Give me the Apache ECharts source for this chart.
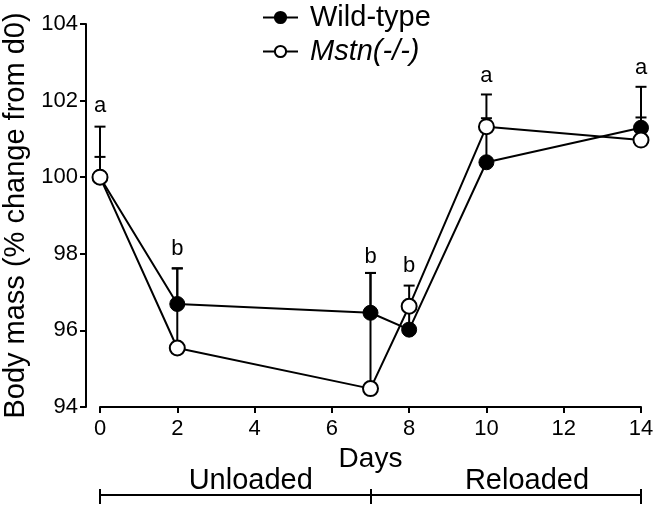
<!DOCTYPE html>
<html><head><meta charset="utf-8">
<script src="https://cdn.jsdelivr.net/npm/echarts@6/dist/echarts.min.js"></script>
<style>html,body{margin:0;padding:0;background:#fff}#c{width:662px;height:512px}</style>
</head><body><div id="c"></div>
<script>
const days = [0, 2, 7, 8, 10, 14];
const wtMean = [100, 96.69, 96.46, 96.02, 100.39, 101.29];
const wtUpper = [100.53, 97.62, 97.5, 96.6, 101.54, 102.36];
const koMean = [100, 95.54, 94.48, 96.63, 101.32, 100.97];
const koUpper = [101.32, 97.62, 97.5, 97.17, 102.16, 101.56];
const letters = ['a', 'b', 'b', 'b', 'a', 'a'];
const letterY = [101.86, 98.14, 97.93, 97.69, 102.65, 102.86];
const phaseBounds = [0, 7, 14];
const phaseNames = ['Unloaded', 'Reloaded'];
const phaseLabelX = [3.9, 11.05];

const FONT = 'Liberation Sans, Arial, Helvetica, sans-serif';
const BLACK = '#000';

function errData(mean, upper) { return days.map((d, i) => [d, mean[i], upper[i]]); }
function errRender(params, api) {
  const x = api.value(0);
  const lo = api.coord([x, api.value(1)]);
  const hi = api.coord([x, api.value(2)]);
  const w = 5.5;
  return { type: 'group', children: [
    { type: 'line', shape: { x1: lo[0], y1: lo[1], x2: hi[0], y2: hi[1] }, style: { stroke: BLACK, lineWidth: 2 } },
    { type: 'line', shape: { x1: hi[0] - w, y1: hi[1], x2: hi[0] + w, y2: hi[1] }, style: { stroke: BLACK, lineWidth: 2 } }
  ]};
}
function letterRender(params, api) {
  const p = api.coord([api.value(0), api.value(1)]);
  return { type: 'text', x: p[0], y: p[1], style: {
    text: letters[params.dataIndex], fill: BLACK, fontSize: 22, fontFamily: FONT,
    align: 'center', verticalAlign: 'middle'
  }};
}
function phaseName(v) {
  let best = 0;
  phaseLabelX.forEach((p, i) => { if (Math.abs(p - v) < Math.abs(phaseLabelX[best] - v)) best = i; });
  return Math.abs(phaseLabelX[best] - v) < 0.01 ? phaseNames[best] : '';
}

const chart = echarts.init(document.getElementById('c'), null, { renderer: 'canvas' });
chart.setOption({
  animation: false,
  backgroundColor: '#fff',
  textStyle: { fontFamily: FONT, color: BLACK },
  grid: { left: 100, right: 21, top: 24, bottom: 105, containLabel: false, outerBoundsMode: 'none' },
  legend: {
    orient: 'vertical', left: 257, top: -2,
    itemWidth: 35, itemHeight: 14, itemGap: 5,
    textStyle: { fontSize: 29, color: BLACK, fontFamily: FONT, padding: [0, 0, 0, 7] },
    data: [{ name: 'Wild-type' }, { name: 'Mstn(-/-)', textStyle: { fontStyle: 'italic' } }]
  },
  xAxis: [
    {
      type: 'value', min: 0, max: 14, interval: 2,
      axisLine: { show: true, onZero: false, lineStyle: { color: BLACK, width: 2 } },
      axisTick: { show: true, length: 6, lineStyle: { color: BLACK, width: 2 } },
      axisLabel: { fontSize: 22, color: BLACK, margin: 11, fontFamily: FONT },
      splitLine: { show: false },
      name: 'Days', nameLocation: 'middle', nameGap: 33,
      nameTextStyle: { fontSize: 28, color: BLACK, fontFamily: FONT }
    },
    {
      type: 'value', min: 0, max: 14, interval: 7, position: 'bottom', offset: 88,
      axisLine: { show: true, onZero: false, lineStyle: { color: BLACK, width: 2 } },
      axisTick: { show: true, length: 9, customValues: phaseBounds, lineStyle: { color: BLACK, width: 2 } },
      axisLabel: { show: false },
      splitLine: { show: false }
    },
    {
      type: 'value', min: 0, max: 14, interval: 7, position: 'bottom', offset: 88,
      axisLine: { show: true, onZero: false, lineStyle: { color: BLACK, width: 2 } },
      axisTick: { show: true, inside: true, length: 6, customValues: phaseBounds, lineStyle: { color: BLACK, width: 2 } },
      axisLabel: { show: true, inside: true, margin: 0, customValues: phaseLabelX, formatter: phaseName,
                   fontSize: 29, color: BLACK, fontFamily: FONT },
      splitLine: { show: false }
    }
  ],
  yAxis: {
    type: 'value', min: 94, max: 104, interval: 2, offset: 14,
    axisLine: { show: true, onZero: false, lineStyle: { color: BLACK, width: 2 } },
    axisTick: { show: true, length: 6, lineStyle: { color: BLACK, width: 2 } },
    axisLabel: { fontSize: 22, color: BLACK, margin: 8, fontFamily: FONT },
    splitLine: { show: false },
    name: 'Body mass (% change from d0)', nameLocation: 'middle', nameGap: 52,
    nameTextStyle: { fontSize: 29, color: BLACK, fontFamily: FONT }
  },
  series: [
    { type: 'custom', name: 'errWT', z: 1, renderItem: errRender, data: errData(wtMean, wtUpper), silent: true },
    { type: 'custom', name: 'errKO', z: 1, renderItem: errRender, data: errData(koMean, koUpper), silent: true },
    {
      type: 'line', name: 'Wild-type', z: 2, data: days.map((d, i) => [d, wtMean[i]]),
      symbol: 'circle', symbolSize: 15, showSymbol: true,
      lineStyle: { color: BLACK, width: 2 }, itemStyle: { color: BLACK, borderColor: BLACK, borderWidth: 1 },
      emphasis: { disabled: true }
    },
    {
      type: 'line', name: 'Mstn(-/-)', z: 3, data: days.map((d, i) => [d, koMean[i]]),
      symbol: 'circle', symbolSize: 15, showSymbol: true,
      lineStyle: { color: BLACK, width: 2 }, itemStyle: { color: '#fff', borderColor: BLACK, borderWidth: 2 },
      emphasis: { disabled: true }
    },
    {
      type: 'custom', name: 'letters', z: 5, silent: true, clip: false,
      renderItem: letterRender,
      data: days.map((d, i) => [d, letterY[i]])
    }
  ]
});
</script>
</body></html>
